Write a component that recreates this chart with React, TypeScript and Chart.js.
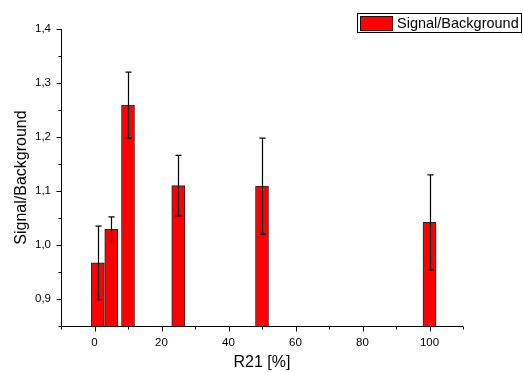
import React, { useEffect, useRef } from "react";
import { Chart, registerables } from "chart.js";

Chart.register(...registerables);

const xValues = [1, 5, 10, 25, 50, 100];
const ratioValues = [0.967, 1.029, 1.259, 1.11, 1.109, 1.042];
const errorValues = [0.068, 0.023, 0.061, 0.056, 0.089, 0.088];
const xMajorTicks = [0, 20, 40, 60, 80, 100];
const xMinorTicks = [-10, 10, 30, 50, 70, 90, 110];
const yMajorTicks = [0.9, 1.0, 1.1, 1.2, 1.3, 1.4];
const yMinorTicks = [0.85, 0.95, 1.05, 1.15, 1.25, 1.35];
const seriesLabel = "Signal/Background";

const FONT = "'Liberation Sans', Arial, sans-serif";

const drawPlugin = {
  id: "originStyle",
  afterDatasetsDraw(chart: any) {
    const { ctx, scales } = chart;
    const xs = scales.x;
    const ys = scales.y;
    ctx.save();
    ctx.strokeStyle = "#000";
    ctx.lineWidth = 1.2;
    xValues.forEach((xv, i) => {
      const px = Math.round(xs.getPixelForValue(xv)) + 0.5;
      const top = ys.getPixelForValue(ratioValues[i] + errorValues[i]);
      const bot = ys.getPixelForValue(ratioValues[i] - errorValues[i]);
      ctx.beginPath();
      ctx.moveTo(px, top);
      ctx.lineTo(px, bot);
      ctx.moveTo(px - 3, top);
      ctx.lineTo(px + 3, top);
      ctx.moveTo(px - 3, bot);
      ctx.lineTo(px + 3, bot);
      ctx.stroke();
    });
    ctx.restore();
  },
  afterDraw(chart: any) {
    const { ctx, scales, chartArea } = chart;
    const xs = scales.x;
    const ys = scales.y;
    ctx.save();
    ctx.strokeStyle = "#000";
    ctx.lineWidth = 1;
    const ax = Math.round(chartArea.left) + 0.5;
    const ay = Math.round(chartArea.bottom) + 0.5;
    ctx.beginPath();
    ctx.moveTo(ax, chartArea.top);
    ctx.lineTo(ax, ay);
    ctx.moveTo(ax, ay);
    ctx.lineTo(chartArea.right, ay);
    yMajorTicks.forEach((v) => {
      const py = Math.round(ys.getPixelForValue(v)) + 0.5;
      ctx.moveTo(ax - 5, py);
      ctx.lineTo(ax, py);
    });
    yMinorTicks.forEach((v) => {
      const py = Math.round(ys.getPixelForValue(v)) + 0.5;
      ctx.moveTo(ax - 3, py);
      ctx.lineTo(ax, py);
    });
    xMajorTicks.forEach((v) => {
      const px = Math.round(xs.getPixelForValue(v)) + 0.5;
      ctx.moveTo(px, ay);
      ctx.lineTo(px, ay + 5);
    });
    xMinorTicks.forEach((v) => {
      const px = Math.round(xs.getPixelForValue(v)) + 0.5;
      ctx.moveTo(px, ay);
      ctx.lineTo(px, ay + 3);
    });
    ctx.stroke();

    // legend
    const lx = 357.5;
    const ly = 13.5;
    const lw = 164;
    const lh = 19;
    ctx.fillStyle = "#fff";
    ctx.fillRect(lx, ly, lw, lh);
    ctx.strokeStyle = "#000";
    ctx.lineWidth = 1;
    ctx.strokeRect(lx, ly, lw, lh);
    ctx.fillStyle = "#ff0000";
    ctx.fillRect(360.5, 16.5, 32, 14);
    ctx.strokeStyle = "#3a0000";
    ctx.strokeRect(360.5, 16.5, 32, 14);
    ctx.fillStyle = "#000";
    ctx.font = `14.5px ${FONT}`;
    ctx.textBaseline = "middle";
    ctx.textAlign = "left";
    ctx.fillText(seriesLabel, 397, 23.5);
    ctx.restore();
  },
};

export default function App() {
  const ref = useRef<HTMLCanvasElement | null>(null);
  useEffect(() => {
    document.body.style.margin = "0";
    const canvas = ref.current;
    if (!canvas) return;
    const chart = new Chart(canvas, {
      type: "bar",
      data: {
        datasets: [
          {
            label: seriesLabel,
            data: xValues.map((x, i) => ({ x, y: ratioValues[i] })),
            backgroundColor: "#ff0000",
            borderColor: "rgba(40,0,0,0.9)",
            borderWidth: 1,
            borderSkipped: false,
            barThickness: 13,
          },
        ],
      },
      options: {
        animation: false,
        responsive: false,
        maintainAspectRatio: false,
        layout: { padding: { top: 29, right: 60, left: 0, bottom: 0 } },
        plugins: { legend: { display: false }, tooltip: { enabled: false } },
        scales: {
          x: {
            type: "linear",
            offset: false,
            min: -10,
            max: 110,
            grid: { display: false, drawTicks: false },
            border: { display: false },
            afterBuildTicks: (s: any) => {
              s.ticks = xMajorTicks.map((v) => ({ value: v }));
            },
            afterFit: (s: any) => {
              s.height = 46;
            },
            ticks: {
              autoSkip: false,
              maxRotation: 0,
              padding: 10,
              color: "#000",
              font: { family: FONT, size: 11.5 },
              callback: (v: any) => String(v),
            },
            title: {
              display: true,
              text: "R21 [%]",
              color: "#000",
              font: { family: FONT, size: 16 },
              padding: { top: 0, bottom: 0 },
            },
          },
          y: {
            type: "linear",
            min: 0.85,
            max: 1.4,
            grid: { display: false, drawTicks: false },
            border: { display: false },
            afterBuildTicks: (s: any) => {
              s.ticks = yMajorTicks.map((v) => ({ value: v }));
            },
            afterFit: (s: any) => {
              s.width = 61;
            },
            ticks: {
              autoSkip: false,
              padding: 10,
              color: "#000",
              font: { family: FONT, size: 11.5 },
              callback: (v: any) => Number(v).toFixed(1).replace(".", ","),
            },
            title: {
              display: true,
              text: "Signal/Background",
              color: "#000",
              font: { family: FONT, size: 16 },
              padding: { top: 12, bottom: 0 },
            },
          },
        },
      },
      plugins: [drawPlugin],
    });
    return () => chart.destroy();
  }, []);
  return (
    <div style={{ width: 523, height: 372 }}>
      <canvas ref={ref} width={523} height={372} style={{ display: "block" }} />
    </div>
  );
}
